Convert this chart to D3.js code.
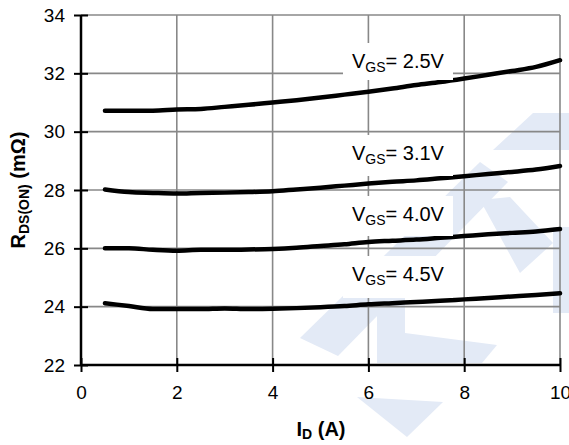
<!DOCTYPE html>
<html>
<head>
<meta charset="utf-8">
<script src="https://cdn.jsdelivr.net/npm/d3@7/dist/d3.min.js"></script>
<style>
  body { margin: 0; background: #fff; }
  svg { display: block; font-family: "Liberation Sans", Arial, sans-serif; }
</style>
</head>
<body>
<svg id="chart"></svg>
<script>
// drain current I_D (A)
const currents = [0.5, 1, 1.5, 2, 2.5, 3, 3.5, 4, 4.5, 5, 5.5, 6, 6.5, 7, 7.5, 8, 8.5, 9, 9.5, 10];

// R_DS(ON) in mOhm, one array per gate voltage
const vgs25 = [30.72, 30.72, 30.72, 30.76, 30.78, 30.85, 30.92, 31.0, 31.08, 31.17, 31.27, 31.37, 31.48, 31.6, 31.7, 31.82, 31.95, 32.08, 32.22, 32.45];
const vgs31 = [28.02, 27.93, 27.9, 27.88, 27.9, 27.91, 27.93, 27.96, 28.02, 28.08, 28.15, 28.22, 28.28, 28.33, 28.4, 28.47, 28.55, 28.62, 28.7, 28.82];
const vgs40 = [26.0, 26.0, 25.95, 25.92, 25.95, 25.95, 25.96, 25.98, 26.02, 26.08, 26.14, 26.22, 26.26, 26.3, 26.36, 26.42, 26.48, 26.53, 26.58, 26.66];
const vgs45 = [24.12, 24.02, 23.92, 23.92, 23.92, 23.94, 23.92, 23.93, 23.95, 23.98, 24.02, 24.08, 24.12, 24.16, 24.2, 24.25, 24.3, 24.35, 24.4, 24.46];

const seriesNames = ["2.5V", "3.1V", "4.0V", "4.5V"];
const xTicks = [0, 2, 4, 6, 8, 10];
const yTicks = [22, 24, 26, 28, 30, 32, 34];

const width = 569, height = 445;
const svg = d3.select("#chart").attr("width", width).attr("height", height);

const x = d3.scaleLinear().domain([0, 10]).range([81, 560]);
const y = d3.scaleLinear().domain([22, 34]).range([365, 15]);

// faint logo watermark behind the plot
const wm = [
  [[493,150],[533,113],[569,113],[569,150]],
  [[300,338],[480,162],[508,182],[338,356]],
  [[480,200],[510,197],[553,243],[520,273]],
  [[553,227],[569,227],[569,313],[553,313]],
  [[377,298],[405,296],[405,333],[497,345],[482,363],[377,363]],
  [[357,397],[443,402],[407,437]]
];
svg.append("g").selectAll("polygon").data(wm).enter().append("polygon")
  .attr("points", d => d.map(p => p.join(",")).join(" "))
  .attr("fill", "#e3eaf6");

// grid
const grid = svg.append("g").attr("stroke", "#888").attr("stroke-width", 1.6);
grid.selectAll(".gx").data(xTicks.filter(t => t > 0)).enter().append("line")
  .attr("x1", d => x(d)).attr("x2", d => x(d))
  .attr("y1", y(22)).attr("y2", y(34));
grid.selectAll(".gy").data(yTicks.filter(t => t > 22)).enter().append("line")
  .attr("x1", x(0)).attr("x2", x(10))
  .attr("y1", d => y(d)).attr("y2", d => y(d));

// curves
const line = d3.line()
  .x((d, i) => x(currents[i]))
  .y(d => y(d))
  .curve(d3.curveMonotoneX);

svg.append("g").selectAll("path")
  .data([vgs25, vgs31, vgs40, vgs45])
  .enter().append("path")
  .attr("d", line)
  .attr("fill", "none")
  .attr("stroke", "#000")
  .attr("stroke-width", 4.5)
  .attr("stroke-linecap", "round");

// curve labels on white boxes
const boxes = [[43, 80], [135, 176], [196, 236], [256, 298]];
const labels = svg.append("g");
seriesNames.forEach((name, i) => {
  const [t, b] = boxes[i];
  labels.append("rect")
    .attr("x", 343).attr("y", t)
    .attr("width", 110).attr("height", b - t)
    .attr("fill", "#fff");
  const txt = labels.append("text")
    .attr("x", 352).attr("y", t + 25)
    .attr("font-size", 20);
  txt.append("tspan").text("V");
  txt.append("tspan").attr("font-size", 14).attr("dy", 4).text("GS");
  txt.append("tspan").attr("dy", -4).text("= " + name);
});

// axes
const xAxis = svg.append("g")
  .attr("transform", `translate(0,${y(22)})`)
  .call(d3.axisBottom(x).tickValues(xTicks).tickSize(7).tickPadding(14));
xAxis.selectAll(".tick line").attr("y1", -7).attr("stroke-width", 2);
xAxis.select(".domain").attr("d", `M${x(0)},0H${x(10)}`).attr("stroke-width", 2.5);
xAxis.selectAll("text").attr("font-size", 19).attr("fill", "#000")
  .style("font-family", "Liberation Sans, Arial, sans-serif");

const yAxis = svg.append("g")
  .attr("transform", `translate(${x(0)},0)`)
  .call(d3.axisLeft(y).tickValues(yTicks).tickSize(7).tickPadding(9));
yAxis.selectAll(".tick line").attr("x1", 7).attr("stroke-width", 2);
yAxis.select(".domain").attr("d", `M0,${y(22)}V${y(34)}`).attr("stroke-width", 2.5);
yAxis.selectAll("text").attr("font-size", 19).attr("fill", "#000")
  .style("font-family", "Liberation Sans, Arial, sans-serif");

// axis titles
const xt = svg.append("text")
  .attr("x", 321).attr("y", 436)
  .attr("text-anchor", "middle")
  .attr("font-size", 20).attr("font-weight", "bold");
xt.append("tspan").text("I");
xt.append("tspan").attr("font-size", 14).attr("dy", 3).text("D");
xt.append("tspan").attr("dy", -3).text(" (A)");

const yt = svg.append("text")
  .attr("transform", "translate(25,190) rotate(-90)")
  .attr("text-anchor", "middle")
  .attr("font-size", 20).attr("font-weight", "bold");
yt.append("tspan").text("R");
yt.append("tspan").attr("font-size", 14).attr("dy", 4).text("DS(ON)");
yt.append("tspan").attr("dy", -4).text(" (m\u03A9)");
</script>
</body>
</html>
